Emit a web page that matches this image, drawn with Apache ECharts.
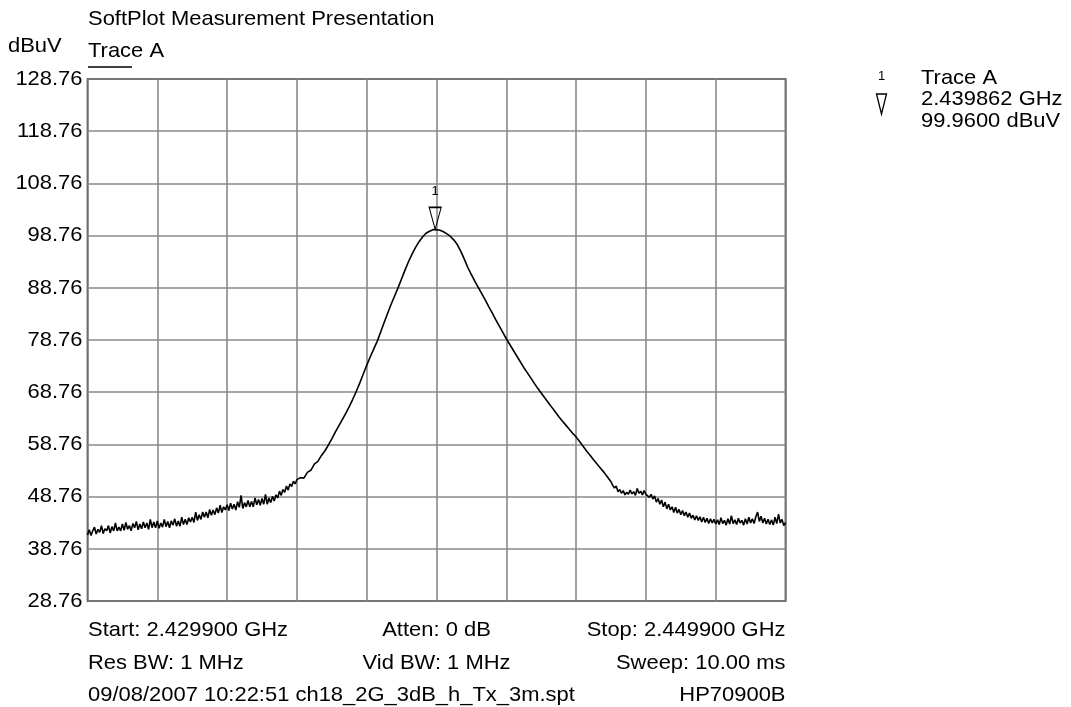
<!DOCTYPE html>
<html>
<head>
<meta charset="utf-8">
<title>SoftPlot Measurement Presentation</title>
<script src="https://cdn.jsdelivr.net/npm/echarts@6/dist/echarts.min.js"></script>
<style>
  html, body { margin: 0; padding: 0; background: #fff; }
  #chart { width: 1071px; height: 707px; }
</style>
</head>
<body>
<div id="chart"></div>
<script>
// Sweep settings (GHz) and reference levels (dBuV)
const startGHz = 2.4299;
const stopGHz = 2.4499;
const bottomLevel = 28.76;
const topLevel = 128.76;
const yTickLabels = ['28.76', '38.76', '48.76', '58.76', '68.76', '78.76', '88.76', '98.76', '108.76', '118.76', '128.76'];

// Trace A levels (dBuV); each segment has its own start offset from startGHz and step, in MHz
const traceLowStart = 0.0, traceLowStep = 0.05;
const traceLow = [
  41.4, 42.4, 41.3, 42.2, 42.9, 41.6, 42.5, 41.9, 43.2, 41.7,
  42.6, 42.2, 43.2, 41.8, 43.0, 42.2, 43.7, 42.2, 42.9, 42.2,
  43.5, 42.3, 43.8, 42.5, 43.2, 42.2, 43.6, 42.8, 44.0, 42.4,
  43.5, 42.6, 43.9, 42.8, 43.7, 42.5, 44.4, 42.8, 43.9, 42.8,
  44.1, 42.7, 43.7, 42.9, 44.4, 43.0, 44.0, 42.8, 44.1, 43.3,
  44.5, 43.1, 44.1, 43.1, 44.8, 43.4, 44.4, 43.4, 44.7, 43.9,
  44.8, 43.8, 45.8, 44.2, 45.3, 44.4, 45.8, 44.8, 45.8, 44.7,
  46.3, 45.2, 46.2, 45.3, 46.6, 45.6, 47.1, 45.7, 46.8, 46.2,
  47.2, 46.1, 47.5, 46.4, 47.3, 46.2, 47.8, 46.7, 49.0, 46.5,
  47.6, 46.8, 48.0, 46.8, 47.8, 46.8, 48.5, 47.2, 48.2, 47.1,
  48.4, 47.3, 49.2, 47.3, 48.5, 47.6, 48.8, 47.9, 49.1, 48.5,
  49.8, 49.0, 50.1, 49.6, 50.8, 50.0, 51.2, 50.7, 51.7, 51.2,
  52.0
];
const traceMidStart = 6.1, traceMidStep = 0.1;
const traceMid = [
  52.4, 52.3, 53.4, 53.8, 55.0, 55.5, 56.6, 57.5, 58.6,
  59.8, 61.1, 62.3, 63.5, 64.7, 66.0, 67.4, 68.9, 70.5, 72.2,
  73.9, 75.5, 77.0, 78.5, 80.3, 82.1, 83.9, 85.6, 87.2, 88.8,
  90.5, 92.2, 93.8, 95.2, 96.5, 97.6, 98.5, 99.2, 99.6, 99.9,
  99.9, 99.8, 99.5, 99.1, 98.6, 97.9, 97.0, 95.7, 94.2, 92.6,
  91.3, 90.0, 88.8, 87.6, 86.4, 85.1, 83.9, 82.6, 81.4, 80.2,
  79.0, 77.9, 76.8, 75.7, 74.6, 73.5, 72.5, 71.5, 70.5, 69.5,
  68.6, 67.7, 66.8, 65.9, 65.0, 64.1, 63.3, 62.5, 61.7, 60.9,
  60.2, 59.3, 58.4, 57.5, 56.7, 55.8, 55.0, 54.2, 53.4, 52.5
];
const traceHighStart = 15.0, traceHighStep = 0.05;
const traceHigh = [
  51.6, 50.9, 50.4, 50.8, 49.7, 50.1, 49.4, 49.9, 49.1, 49.6,
  49.2, 50.0, 49.3, 49.7, 49.0, 50.3, 49.4, 49.8, 49.1, 49.9,
  49.2, 49.5, 48.6, 49.2, 48.3, 48.9, 47.7, 48.4, 47.3, 48.1,
  46.8, 47.7, 46.4, 47.3, 46.2, 46.8, 45.7, 46.7, 45.6, 46.3,
  45.3, 46.1, 45.1, 45.8, 44.8, 45.6, 44.6, 45.2, 44.3, 45.1,
  44.2, 44.9, 43.9, 44.8, 43.8, 44.6, 43.6, 44.5, 43.7, 44.4,
  43.5, 44.3, 43.4, 44.7, 43.6, 44.2, 43.3, 44.5, 43.5, 45.1,
  43.6, 44.3, 43.4, 44.6, 43.7, 44.2, 43.3, 44.5, 43.5, 44.8,
  43.7, 44.5, 43.6, 44.9, 45.8, 44.0, 45.0, 43.7, 44.6, 43.5,
  44.4, 43.4, 44.3, 43.3, 44.8, 43.6, 45.4, 43.7, 44.4, 43.2,
  43.8
];

// Marker 1 readout
const markerGHz = 2.439862;
const markerLevel = 99.96;

// Text blocks
const titleText = 'SoftPlot Measurement Presentation';
const unitText = 'dBuV';
const traceName = 'Trace A';
const footerLeft = ['Start: 2.429900 GHz', 'Res BW: 1 MHz', '09/08/2007 10:22:51 ch18_2G_3dB_h_Tx_3m.spt'];
const footerCenter = ['Atten: 0 dB', 'Vid BW: 1 MHz', ''];
const footerRight = ['Stop: 2.449900 GHz', 'Sweep: 10.00 ms', 'HP70900B'];

// Plot x is MHz from the start frequency, y is dB above the bottom level
const spanMHz = Math.round((stopGHz - startGHz) * 1000);
const ySpan = topLevel - bottomLevel;

function segmentPoints(start, step, levels) {
  return levels.map((v, i) => [+(start + i * step).toFixed(3), +(v - bottomLevel).toFixed(3)]);
}
const tracePoints = []
  .concat(segmentPoints(traceLowStart, traceLowStep, traceLow))
  .concat(segmentPoints(traceMidStart, traceMidStep, traceMid))
  .concat(segmentPoints(traceHighStart, traceHighStep, traceHigh));

const markerX = +((markerGHz - startGHz) * 1000).toFixed(4);
const markerY = markerLevel - bottomLevel;

const FONT = '"Liberation Sans", Arial, Helvetica, sans-serif';
const FONT_SIZE = 21;
const WIDEN = 1.045;         // the plotter's lettering is a touch wider than Helvetica
const W = 1071, H = 707;
const gridLeft = 87.5, gridTop = 79, gridRight = 785.5, gridBottom = 601;
const gridMid = (gridLeft + gridRight) / 2;

const chart = echarts.init(document.getElementById('chart'), null, { renderer: 'canvas' });

function txt(x, y, text, size, align, widen) {
  return {
    type: 'text', x: x, y: y, silent: true,
    scaleX: widen === undefined ? WIDEN : widen,
    style: { text: text, fill: '#000', font: size + 'px ' + FONT, align: align || 'left', verticalAlign: 'middle' }
  };
}

chart.setOption({
  animation: false,
  backgroundColor: '#fff',
  grid: {
    left: gridLeft, top: gridTop, right: W - gridRight, bottom: H - gridBottom,
    show: true, borderColor: '#000', borderWidth: 1.5, backgroundColor: 'transparent'
  },
  xAxis: {
    type: 'value', min: 0, max: spanMHz, interval: 2,
    axisLine: { show: false }, axisTick: { show: false }, axisLabel: { show: false },
    splitLine: { show: true, lineStyle: { color: '#8a8a8a', width: 1.6 } }
  },
  yAxis: {
    type: 'value', min: 0, max: ySpan, interval: 10,
    axisLine: { show: false }, axisTick: { show: false }, axisLabel: { show: false },
    splitLine: { show: true, lineStyle: { color: '#8a8a8a', width: 1.6 } }
  },
  series: [{
    name: traceName,
    type: 'line',
    data: tracePoints,
    showSymbol: false,
    symbol: 'none',
    lineStyle: { color: '#000', width: 1.6 },
    z: 3,
    markPoint: {
      silent: true,
      data: [{
        coord: [markerX, markerY],
        symbol: 'path://M0,0 L12,0 L6,22 Z',
        symbolSize: [12, 22],
        symbolOffset: [0, '-50%'],
        itemStyle: { color: 'rgba(255,255,255,0)', borderColor: '#000', borderWidth: 1.3 },
        label: { show: true, position: 'top', distance: 9, formatter: '1', color: '#000', fontFamily: FONT, fontSize: 13 }
      }]
    }
  }]
});

// Header, level labels, marker readout and sweep settings
const graphics = [
  txt(88, 19, titleText, FONT_SIZE, 'left'),
  txt(8, 46, unitText, FONT_SIZE, 'left'),
  txt(88, 51, traceName, FONT_SIZE, 'left'),
  { type: 'line', silent: true, shape: { x1: 88, y1: 67, x2: 132, y2: 67 }, style: { stroke: '#000', lineWidth: 1.5 } },
  txt(881.5, 76, '1', 13, 'center', 1),
  { type: 'polygon', silent: true, shape: { points: [[876.5, 94], [886.5, 94], [881.5, 114]] }, style: { fill: '#fff', stroke: '#000', lineWidth: 1.3 } },
  txt(921, 78, traceName, FONT_SIZE, 'left'),
  txt(921, 99.5, markerGHz.toFixed(6) + ' GHz', FONT_SIZE, 'left'),
  txt(921, 121, markerLevel.toFixed(4) + ' dBuV', FONT_SIZE, 'left')
];
yTickLabels.forEach((label, i) => {
  const py = chart.convertToPixel({ yAxisIndex: 0 }, i * 10);
  graphics.push(txt(gridLeft - 5, py, label, FONT_SIZE, 'right'));
});
const footerRows = [630, 663, 695];
footerRows.forEach((y, i) => {
  if (footerLeft[i]) graphics.push(txt(88, y, footerLeft[i], FONT_SIZE, 'left'));
  if (footerCenter[i]) graphics.push(txt(gridMid, y, footerCenter[i], FONT_SIZE, 'center'));
  if (footerRight[i]) graphics.push(txt(gridRight, y, footerRight[i], FONT_SIZE, 'right'));
});
chart.setOption({ graphic: graphics });
</script>
</body>
</html>
